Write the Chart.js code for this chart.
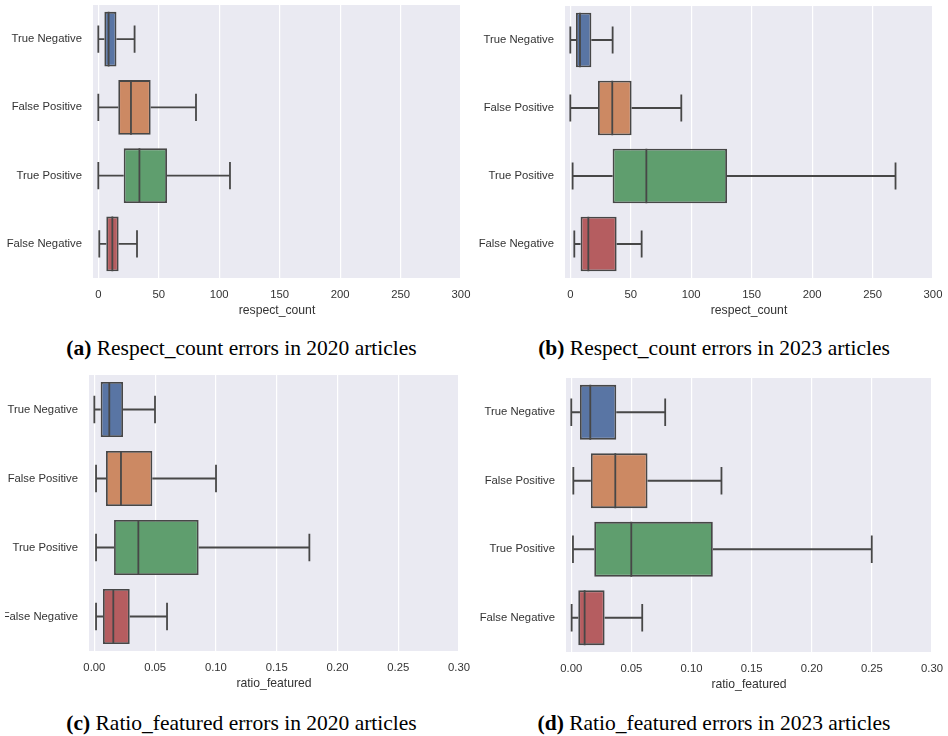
<!DOCTYPE html>
<html>
<head>
<meta charset="utf-8">
<script src="https://cdn.jsdelivr.net/npm/chart.js@4.4.1/dist/chart.umd.min.js"></script>
<style>
  html, body { margin: 0; padding: 0; background: #fff; }
  body { position: relative; width: 948px; height: 736px; overflow: hidden; }
  canvas { position: absolute; }
  .cap {
    position: absolute; width: 474px; text-align: center; white-space: nowrap;
    font-family: 'Liberation Serif', 'Times New Roman', serif;
    font-size: 21.5px; line-height: 21.5px; color: #000;
  }
</style>
</head>
<body>
<canvas id="panelA" width="474" height="330" style="left:0px;top:0px"></canvas>
<canvas id="panelB" width="474" height="330" style="left:474px;top:0px"></canvas>
<canvas id="panelC" width="469" height="330" style="left:5px;top:365px"></canvas>
<canvas id="panelD" width="474" height="330" style="left:474px;top:365px"></canvas>
<div class="cap" style="left:4.5px;top:337.7px"><b>(a)</b> Respect_count errors in 2020 articles</div>
<div class="cap" style="left:477px;top:337.7px"><b>(b)</b> Respect_count errors in 2023 articles</div>
<div class="cap" style="left:4.5px;top:713px"><b>(c)</b> Ratio_featured errors in 2020 articles</div>
<div class="cap" style="left:477px;top:713px"><b>(d)</b> Ratio_featured errors in 2023 articles</div>
<script>
// Error categories (one box per category)
const categories = ['True Negative', 'False Positive', 'True Positive', 'False Negative'];

// Axis tick values
const countTicks = [0, 50, 100, 150, 200, 250, 300];
const ratioTicks = [0, 0.05, 0.10, 0.15, 0.20, 0.25, 0.30];

// respect_count, 2020 articles: whisker low, Q1, median, Q3, whisker high
const count2020Low    = [0, 0, 0, 0.8];
const count2020Q1     = [5.0, 16.5, 21.0, 6.6];
const count2020Median = [8.5, 27.0, 34.0, 11.6];
const count2020Q3     = [15.0, 43.3, 56.8, 16.8];
const count2020High   = [30.0, 80.8, 108.9, 32.0];

// respect_count, 2023 articles
const count2023Low    = [0, 0, 1.9, 3.3];
const count2023Q1     = [4.7, 22.9, 35.0, 8.5];
const count2023Median = [8.0, 34.7, 62.9, 14.9];
const count2023Q3     = [17.4, 50.7, 129.6, 38.3];
const count2023High   = [35.0, 91.8, 269.0, 59.0];

// ratio_featured, 2020 articles
const ratio2020Low    = [0, 0.0014, 0.0014, 0.0014];
const ratio2020Q1     = [0.0052, 0.0096, 0.0162, 0.0071];
const ratio2020Median = [0.0123, 0.0219, 0.0362, 0.0156];
const ratio2020Q3     = [0.0236, 0.0477, 0.0858, 0.0291];
const ratio2020High   = [0.0499, 0.1001, 0.1769, 0.0598];

// ratio_featured, 2023 articles
const ratio2023Low    = [0, 0.0017, 0.0014, 0.0003];
const ratio2023Q1     = [0.0072, 0.0163, 0.0191, 0.0058];
const ratio2023Median = [0.0158, 0.0366, 0.0499, 0.0111];
const ratio2023Q3     = [0.0374, 0.0634, 0.1177, 0.0277];
const ratio2023High   = [0.0781, 0.1249, 0.2499, 0.0590];

const boxColors = ['#5975a4', '#cc8963', '#5f9e6e', '#b55d60'];
const lineColor = '#474747';
const panelBg = '#eaeaf2';
const textColor = '#333333';

Chart.defaults.font.family = "'Liberation Sans', Arial, sans-serif";

// Draws panel background, whiskers, caps and medians using the chart's scales
function boxPlotParts(low, median, high) {
  return {
    id: 'boxPlotParts',
    beforeDraw(chart) {
      const a = chart.chartArea, ctx = chart.ctx;
      ctx.save();
      ctx.fillStyle = panelBg;
      ctx.fillRect(a.left, a.top, a.right - a.left, a.bottom - a.top);
      ctx.restore();
    },
    afterDatasetsDraw(chart) {
      const ctx = chart.ctx, xs = chart.scales.x;
      const meta = chart.getDatasetMeta(0);
      const q = chart.data.datasets[0].data;
      ctx.save();
      ctx.strokeStyle = lineColor;
      ctx.lineWidth = 1.8;
      ctx.lineCap = 'butt';
      meta.data.forEach((bar, i) => {
        const { y, height } = bar.getProps(['y', 'height'], true);
        const xLow = xs.getPixelForValue(low[i]);
        const xQ1 = xs.getPixelForValue(q[i][0]);
        const xQ3 = xs.getPixelForValue(q[i][1]);
        const xHigh = xs.getPixelForValue(high[i]);
        const xMed = xs.getPixelForValue(median[i]);
        const cap = height / 4;
        ctx.beginPath();
        ctx.moveTo(xLow, y); ctx.lineTo(xQ1, y);
        ctx.moveTo(xQ3, y); ctx.lineTo(xHigh, y);
        ctx.moveTo(xLow, y - cap); ctx.lineTo(xLow, y + cap);
        ctx.moveTo(xHigh, y - cap); ctx.lineTo(xHigh, y + cap);
        ctx.moveTo(xMed, y - height / 2); ctx.lineTo(xMed, y + height / 2);
        ctx.stroke();
      });
      ctx.restore();
    }
  };
}

function makePanel(id, area, xMin, ticks, fmt, title, low, q1, median, q3, high) {
  const canvas = document.getElementById(id);
  const xAxisHeight = 40;
  return new Chart(canvas, {
    type: 'bar',
    data: {
      labels: categories,
      datasets: [{
        data: q1.map((v, i) => [v, q3[i]]),
        backgroundColor: boxColors,
        borderColor: lineColor,
        borderWidth: 1.8,
        borderSkipped: false,
        barPercentage: 0.8,
        categoryPercentage: 1.0
      }]
    },
    options: {
      indexAxis: 'y',
      responsive: false,
      animation: false,
      layout: {
        padding: {
          left: 0,
          top: area.top,
          right: canvas.width - area.right,
          bottom: canvas.height - area.bottom - xAxisHeight
        }
      },
      plugins: { legend: { display: false }, tooltip: { enabled: false } },
      scales: {
        x: {
          type: 'linear',
          min: xMin,
          max: ticks[ticks.length - 1],
          afterBuildTicks: s => { s.ticks = ticks.map(v => ({ value: v })); },
          afterFit: s => { s.height = xAxisHeight; s.paddingLeft = 0; s.paddingRight = 0; },
          grid: { color: '#ffffff', lineWidth: 1.2, drawTicks: false },
          border: { display: false },
          ticks: {
            padding: 10, color: textColor, font: { size: 11.3 },
            maxRotation: 0, autoSkip: false,
            callback: v => fmt(v)
          },
          title: { display: true, text: title, color: textColor, font: { size: 12.2 }, padding: 0 }
        },
        y: {
          type: 'category',
          offset: true,
          afterFit: s => { s.width = area.left; s.paddingTop = 0; s.paddingBottom = 0; },
          grid: { display: false, drawTicks: false },
          border: { display: false },
          ticks: { padding: 11, color: textColor, font: { size: 11.3 } }
        }
      }
    },
    plugins: [boxPlotParts(low, median, high)]
  });
}

const fmtCount = v => String(v);
const fmtRatio = v => Number(v).toFixed(2);

makePanel('panelA', { left: 93, right: 461, top: 5, bottom: 278 }, -4.4, countTicks, fmtCount,
  'respect_count', count2020Low, count2020Q1, count2020Median, count2020Q3, count2020High);
makePanel('panelB', { left: 91, right: 459, top: 6, bottom: 278 }, -4.4, countTicks, fmtCount,
  'respect_count', count2023Low, count2023Q1, count2023Median, count2023Q3, count2023High);
makePanel('panelC', { left: 84, right: 454, top: 10, bottom: 286 }, -0.0044, ratioTicks, fmtRatio,
  'ratio_featured', ratio2020Low, ratio2020Q1, ratio2020Median, ratio2020Q3, ratio2020High);
makePanel('panelD', { left: 92, right: 458, top: 13, bottom: 287 }, -0.0044, ratioTicks, fmtRatio,
  'ratio_featured', ratio2023Low, ratio2023Q1, ratio2023Median, ratio2023Q3, ratio2023High);
</script>
</body>
</html>
